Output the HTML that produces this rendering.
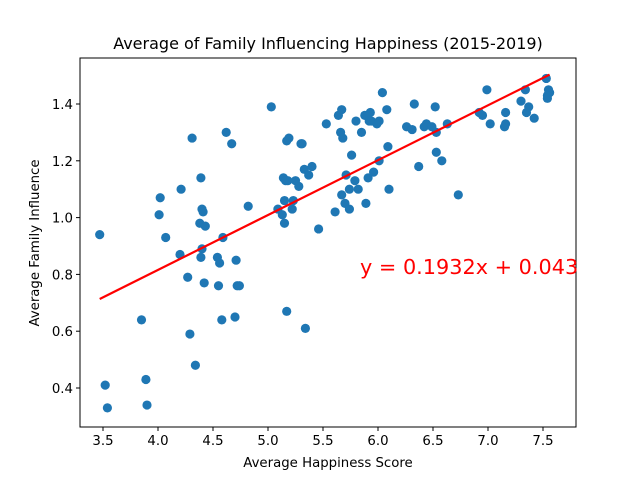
<!DOCTYPE html>
<html><head><meta charset="utf-8"><style>
html,body{margin:0;padding:0;background:#fff;}
svg{display:block;font-family:"DejaVu Sans","Liberation Sans",sans-serif;}
</style></head><body>
<svg id="chart" width="640" height="480" viewBox="0 0 640 480" xmlns="http://www.w3.org/2000/svg">
<rect width="640" height="480" fill="#fff"/>
<g id="plot"></g>
</svg>
<script>
const happiness = [3.47,3.52,3.54,3.85,3.89,3.90,4.01,4.02,4.07,4.20,4.21,4.27,4.29,4.31,4.34,4.39,4.40,4.41,4.38,4.40,4.39,4.42,4.43,4.54,4.55,4.56,4.59,4.58,4.62,4.67,4.71,4.70,4.72,4.74,4.82,5.03,5.09,5.13,5.15,5.14,5.16,5.15,5.17,5.19,5.17,5.22,5.23,5.18,5.25,5.28,5.30,5.31,5.34,5.33,5.37,5.40,5.46,5.53,5.61,5.64,5.67,5.66,5.68,5.67,5.71,5.70,5.74,5.74,5.76,5.79,5.80,5.82,5.85,5.89,5.88,5.91,5.92,5.93,5.94,5.96,5.99,6.01,6.04,6.01,6.08,6.09,6.10,6.26,6.31,6.33,6.37,6.42,6.44,6.49,6.52,6.53,6.53,6.58,6.63,6.73,6.92,6.95,6.99,7.02,7.15,7.16,7.16,7.30,7.34,7.35,7.37,7.42,7.53,7.54,7.55,7.56,7.54];
const family = [0.94,0.41,0.33,0.64,0.43,0.34,1.01,1.07,0.93,0.87,1.10,0.79,0.59,1.28,0.48,1.14,1.03,1.02,0.98,0.89,0.86,0.77,0.97,0.86,0.76,0.84,0.93,0.64,1.30,1.26,0.85,0.65,0.76,0.76,1.04,1.39,1.03,1.01,0.98,1.14,1.13,1.06,1.27,1.28,0.67,1.03,1.06,1.13,1.13,1.11,1.26,1.26,0.61,1.17,1.15,1.18,0.96,1.33,1.02,1.36,1.38,1.30,1.28,1.08,1.15,1.05,1.10,1.03,1.22,1.13,1.34,1.10,1.30,1.05,1.36,1.14,1.34,1.37,1.34,1.16,1.33,1.34,1.44,1.20,1.38,1.25,1.10,1.32,1.31,1.40,1.18,1.32,1.33,1.32,1.39,1.30,1.23,1.20,1.33,1.08,1.37,1.36,1.45,1.33,1.32,1.33,1.37,1.41,1.45,1.37,1.39,1.35,1.49,1.42,1.45,1.44,1.43];
const slope = 0.1932;
const intercept = 0.043;
const xTicks = [3.5,4.0,4.5,5.0,5.5,6.0,6.5,7.0,7.5];
const yTicks = [0.4,0.6,0.8,1.0,1.2,1.4];

const L=80,R=576,T=58,B=427;
function sx(v){return 103+(v-3.5)*110;}
function sy(v){return 104+(1.4-v)*284;}
const NS='http://www.w3.org/2000/svg';
const g=document.getElementById('plot');
function mk(tag,attrs,parent){const e=document.createElementNS(NS,tag);for(const k in attrs)e.setAttribute(k,attrs[k]);(parent||g).appendChild(e);return e;}

const pts=mk('g',{});


for(let i=0;i<happiness.length;i++){
  const c=mk('circle',{cx:sx(happiness[i]),cy:sy(family[i]),r:4.6,fill:'#1f77b4'},pts);
  
  
}
const xmin=Math.min(...happiness),xmax=Math.max(...happiness);
const ln=mk('line',{x1:sx(xmin),y1:sy(slope*xmin+intercept),x2:sx(xmax),y2:sy(slope*xmax+intercept),stroke:'#ff0000','stroke-width':2.2});



const fr=mk('rect',{x:L,y:T,width:R-L,height:B-T,fill:'none',stroke:'#000','stroke-width':1});



xTicks.forEach(v=>{
  const x=sx(v);
  mk('line',{x1:x,y1:B,x2:x,y2:B+4,stroke:'#000'});
  const t=mk('text',{x:x,y:B+18,'font-size':'13.3','text-anchor':'middle',fill:'#000'});
  t.textContent=v.toFixed(1);
  
  
});
yTicks.forEach(v=>{
  const y=sy(v);
  mk('line',{x1:L-4,y1:y,x2:L,y2:y,stroke:'#000'});
  const t=mk('text',{x:L-7,y:y+5,'font-size':'13.3','text-anchor':'end',fill:'#000'});
  t.textContent=v.toFixed(1);
  
  
});
</script>
<svg style="position:absolute;left:0;top:0" width="640" height="480">
<text x="328" y="49" font-size="16" text-anchor="middle" font-family="DejaVu Sans, Liberation Sans, sans-serif">Average of Family Influencing Happiness (2015-2019)</text>
<text x="328" y="467" font-size="13.3" text-anchor="middle" font-family="DejaVu Sans, Liberation Sans, sans-serif">Average Happiness Score</text>
<text transform="translate(39,243) rotate(-90)" font-size="13.3" text-anchor="middle" font-family="DejaVu Sans, Liberation Sans, sans-serif">Average Family Influence</text>
<text x="360" y="274" font-size="20.8" fill="#ff0000" font-family="DejaVu Sans, Liberation Sans, sans-serif">y = 0.1932x + 0.043</text>
</svg>
</body></html>
